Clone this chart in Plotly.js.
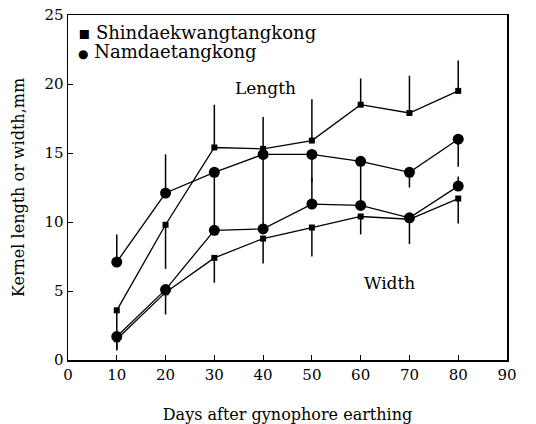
<!DOCTYPE html>
<html>
<head>
<meta charset="utf-8">
<script src="https://cdn.plot.ly/plotly-3.0.1.min.js"></script>
<style>html,body{margin:0;padding:0;background:#fff;}#chart{width:536px;height:424px;}</style>
</head>
<body>
<div id="chart"></div>
<script>
const days = [10, 20, 30, 40, 50, 60, 70, 80];
const xTicks = [0, 10, 20, 30, 40, 50, 60, 70, 80, 90];
const yTicks = [0, 5, 10, 15, 20, 25];

const lenShin = [3.6, 9.8, 15.4, 15.3, 15.9, 18.5, 17.9, 19.5];
const lenShinUp = [0, 0, 3.1, 2.3, 3.0, 1.9, 2.7, 2.2];
const lenShinDown = [2.0, 3.2, 0, 0, 0, 0, 0, 0];

const lenNam = [7.1, 12.1, 13.6, 14.9, 14.9, 14.4, 13.6, 16.0];
const lenNamUp = [2.0, 2.8, 0, 0, 0, 0, 0, 0];
const lenNamDown = [0, 0, 4.0, 5.3, 2.0, 3.2, 1.1, 2.0];

const widNam = [1.7, 5.1, 9.4, 9.5, 11.3, 11.2, 10.3, 12.6];
const widNamUp = [0, 0, 0, 0, 1.9, 0, 0, 0.7];
const widNamDown = [1.0, 1.8, 0, 0, 0, 0, 1.9, 0];

const widShin = [1.5, 4.9, 7.4, 8.8, 9.6, 10.4, 10.2, 11.7];
const widShinUp = [0, 0, 0, 0, 0, 0, 0, 0];
const widShinDown = [0.8, 0, 1.8, 1.8, 2.1, 1.3, 0, 1.8];

const seriesNames = ['Shindaekwangtangkong', 'Namdaetangkong'];
const legendMarks = ['\u25AA', '\u25CF'];

function tr(y, up, down, sym, size, name) {
  return {
    x: days, y: y, type: 'scatter', mode: 'lines+markers', showlegend: false, name: name,
    line: {color: '#000', width: 1.3},
    marker: {symbol: sym, size: size, color: '#000'},
    error_y: {type: 'data', symmetric: false, array: up, arrayminus: down,
              color: '#000', thickness: 1.5, width: 0}
  };
}

const data = [
  tr(lenShin, lenShinUp, lenShinDown, 'square', 6, seriesNames[0]),
  tr(lenNam, lenNamUp, lenNamDown, 'circle', 11, seriesNames[1]),
  tr(widNam, widNamUp, widNamDown, 'circle', 11, seriesNames[1]),
  tr(widShin, widShinUp, widShinDown, 'square', 6, seriesNames[0])
];

const font = "'DejaVu Serif', serif";
const layout = {
  width: 536, height: 424,
  margin: {l: 68, r: 29, t: 15, b: 64},
  paper_bgcolor: '#fff', plot_bgcolor: '#fff',
  font: {family: font, color: '#000', size: 15},
  showlegend: false,
  xaxis: {
    range: [0, 90], tickvals: xTicks, ticktext: xTicks.map(String),
    ticks: 'inside', ticklen: 5, tickcolor: '#000', showgrid: false, zeroline: false,
    showline: true, linecolor: '#000', linewidth: 1.5, mirror: true,
    tickfont: {family: font, size: 15},
    title: {text: 'Days after gynophore earthing', font: {family: font, size: 16}, standoff: 30}
  },
  yaxis: {
    range: [0, 25], tickvals: yTicks, ticktext: yTicks.map(String),
    ticks: 'inside', ticklen: 5, tickcolor: '#000', showgrid: false, zeroline: false,
    showline: true, linecolor: '#000', linewidth: 1.5, mirror: true,
    tickfont: {family: font, size: 15},
    title: {text: 'Kernel length or width,mm', font: {family: font, size: 16}, standoff: 16}
  },
  annotations: [
    {x: 0.018, y: 0.985, xref: 'paper', yref: 'paper', xanchor: 'left', yanchor: 'top',
     text: legendMarks[0] + ' ' + seriesNames[0], showarrow: false,
     font: {family: font, size: 18}},
    {x: 0.018, y: 0.93, xref: 'paper', yref: 'paper', xanchor: 'left', yanchor: 'top',
     text: '<span style="font-size:12px">' + legendMarks[1] + '</span> ' + seriesNames[1], showarrow: false,
     font: {family: font, size: 18}},
    {x: 40.5, y: 19.7, xref: 'x', yref: 'y', text: 'Length', showarrow: false,
     font: {family: font, size: 17}},
    {x: 66, y: 5.6, xref: 'x', yref: 'y', text: 'Width', showarrow: false,
     font: {family: font, size: 17}}
  ]
};

Plotly.newPlot('chart', data, layout, {displayModeBar: false, staticPlot: true});
</script>
</body>
</html>
